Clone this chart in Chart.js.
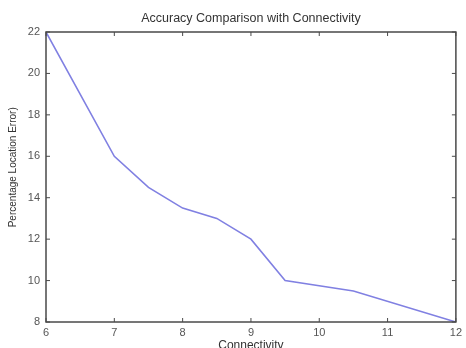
<!DOCTYPE html>
<html>
<head>
<meta charset="utf-8">
<script src="https://cdn.jsdelivr.net/npm/chart.js@4/dist/chart.umd.min.js"></script>
<style>
  html, body { margin: 0; padding: 0; background: #fff; }
  #wrap { width: 466px; height: 348px; }
</style>
</head>
<body>
<div id="wrap"><canvas id="accChart"></canvas></div>
<script>
const connectivity = [6, 7, 7.5, 8, 8.5, 9, 9.5, 10.5, 12];
const locError = [22, 16, 14.5, 13.5, 13, 12, 10, 9.5, 8];
const xTicks = [6, 7, 8, 9, 10, 11, 12];
const yTicks = [8, 10, 12, 14, 16, 18, 20, 22];

const axisColor = "#4a4a4a";
const textColor = "#555";

// matlab style box with inward ticks
const boxPlugin = {
  id: "box",
  afterDraw(chart) {
    const { ctx, chartArea: a, scales } = chart;
    ctx.save();
    ctx.strokeStyle = axisColor;
    ctx.lineWidth = 1.5;
    ctx.strokeRect(a.left, a.top, a.right - a.left, a.bottom - a.top);
    ctx.lineWidth = 1;
    const len = 4;
    xTicks.forEach(v => {
      const x = scales.x.getPixelForValue(v);
      ctx.beginPath();
      ctx.moveTo(x, a.bottom); ctx.lineTo(x, a.bottom - len);
      ctx.moveTo(x, a.top); ctx.lineTo(x, a.top + len);
      ctx.stroke();
    });
    yTicks.forEach(v => {
      const y = scales.y.getPixelForValue(v);
      ctx.beginPath();
      ctx.moveTo(a.left, y); ctx.lineTo(a.left + len, y);
      ctx.moveTo(a.right, y); ctx.lineTo(a.right - len, y);
      ctx.stroke();
    });
    ctx.restore();
  }
};

new Chart(document.getElementById("accChart"), {
  type: "line",
  data: {
    datasets: [{
      data: connectivity.map((c, i) => ({ x: c, y: locError[i] })),
      borderColor: "rgb(128,128,226)",
      borderWidth: 1.6,
      pointRadius: 0,
      tension: 0,
      fill: false
    }]
  },
  options: {
    responsive: true,
    maintainAspectRatio: false,
    animation: false,
    layout: { padding: { left: 0, right: 8, top: 0, bottom: 0 } },
    plugins: {
      legend: { display: false },
      tooltip: { enabled: false },
      title: {
        display: true,
        fullSize: false,
        text: "Accuracy Comparison with Connectivity",
        color: "#333",
        font: { family: "Liberation Sans", size: 12.5, weight: "normal" },
        padding: { top: 11, bottom: 6 }
      }
    },
    scales: {
      x: {
        type: "linear",
        min: 6, max: 12,
        afterFit(scale) { scale.height = 26; },
        afterBuildTicks(scale) { scale.ticks = xTicks.map(v => ({ value: v })); },
        grid: { display: false, drawTicks: false },
        border: { display: false },
        ticks: { color: textColor, padding: 4, font: { family: "Liberation Sans", size: 11 } },
        title: {
          display: true,
          text: "Connectivity",
          color: "#333",
          padding: { top: 0, bottom: -5 },
          font: { family: "Liberation Sans", size: 12 }
        }
      },
      y: {
        min: 8, max: 22,
        afterFit(scale) { scale.width = 46; },
        afterBuildTicks(scale) { scale.ticks = yTicks.map(v => ({ value: v })); },
        grid: { display: false, drawTicks: false },
        border: { display: false },
        ticks: { color: textColor, padding: 6, font: { family: "Liberation Sans", size: 11 } },
        title: {
          display: true,
          // leading spaces nudge the label up like the original
          text: "       Percentage Location Error)",
          color: "#333",
          padding: { top: 7, bottom: 0 },
          font: { family: "Liberation Sans", size: 10 }
        }
      }
    }
  },
  plugins: [boxPlugin]
});
</script>
</body>
</html>
